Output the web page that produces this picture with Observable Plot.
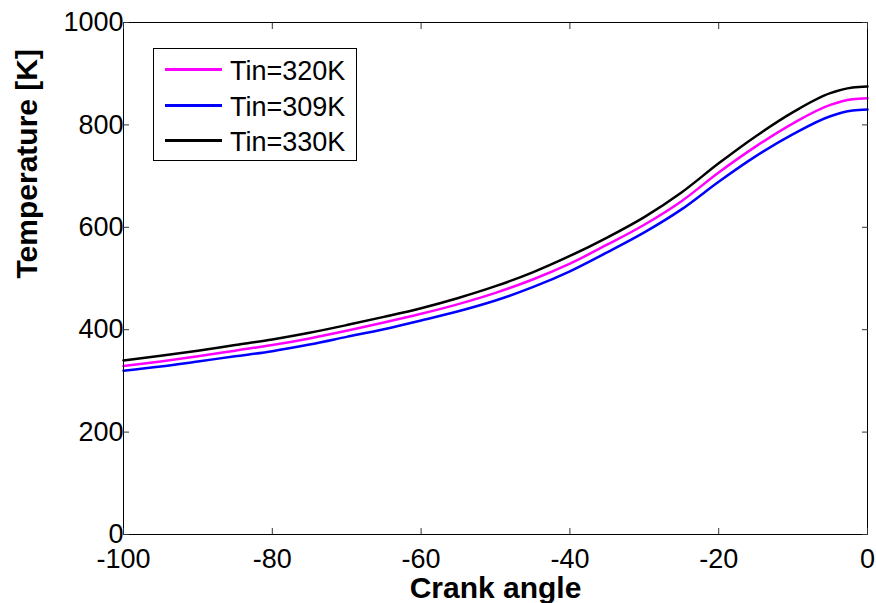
<!DOCTYPE html>
<html>
<head>
<meta charset="utf-8">
<script src="https://cdn.jsdelivr.net/npm/d3@7"></script>
<script src="https://cdn.jsdelivr.net/npm/@observablehq/plot@0.6"></script>
<style>
  html, body { margin: 0; padding: 0; background: #fff; }
  #wrap { position: relative; width: 876px; height: 603px; font-family: "Liberation Sans", Arial, sans-serif; }
  #legend { position: absolute; left: 153px; top: 48px; width: 202px; height: 111px; border: 1px solid #000; background: #fff; }
  .row { position: absolute; left: 0; height: 34px; width: 100%; }
  .row .sw { position: absolute; left: 11px; top: 16px; width: 57px; height: 2.5px; }
  .row .lb { position: absolute; left: 76px; top: 2px; font-size: 27px; line-height: 34px; color: #000; white-space: nowrap; }
</style>
</head>
<body>
<div id="wrap"></div>
<script>
// Crank angle (deg)
const crankAngle = [-100, -95, -90, -85, -80, -75, -70, -65, -60, -55, -50, -45, -40, -35, -30, -25, -20, -15, -10, -5, -2, 0];
// Temperature [K] for each inlet temperature
const temp320 = [329, 338, 348, 359, 370, 383, 398, 414, 431, 450, 472, 498, 529, 566, 605, 651, 707, 758, 803, 839, 850, 852];
const temp309 = [320, 328, 338, 348, 358, 371, 386, 401, 418, 436, 457, 483, 514, 551, 590, 635, 689, 739, 782, 817, 828, 830];
const temp330 = [340, 349, 359, 370, 381, 394, 409, 425, 442, 462, 485, 512, 544, 580, 620, 668, 725, 778, 825, 862, 873, 875];

const seriesNames = ["Tin=320K", "Tin=309K", "Tin=330K"];
const seriesColors = ["#ff00ff", "#0000ff", "#000000"];
const seriesValues = [temp320, temp309, temp330];

const xTicks = [-100, -80, -60, -40, -20, 0];
const yTicks = [0, 200, 400, 600, 800, 1000];

const rows = [];
seriesNames.forEach((name, i) => {
  crankAngle.forEach((a, j) => rows.push({series: name, angle: a, temp: seriesValues[i][j]}));
});

const font = "'Liberation Sans', Arial, sans-serif";
const fmt = d => String(d);

const chart = Plot.plot({
  width: 876,
  height: 603,
  marginLeft: 123,
  marginRight: 9,
  marginTop: 22,
  marginBottom: 69,
  style: {fontFamily: font, background: "#fff", overflow: "visible"},
  x: {domain: [-100, 0]},
  y: {domain: [0, 1000]},
  color: {domain: seriesNames, range: seriesColors},
  marks: [
    Plot.line(rows, {x: "angle", y: "temp", z: "series", stroke: "series", strokeWidth: 2.5, curve: "monotone-x"}),
    Plot.frame({stroke: "#000", strokeWidth: 1}),
    Plot.axisX(xTicks, {anchor: "bottom", tickSize: -6, tickPadding: 20, tickFormat: fmt, fontSize: 27, stroke: "#333", fill: "#000", label: null}),
    Plot.axisX(xTicks, {anchor: "top", tickSize: -6, tickFormat: () => "", stroke: "#333", label: null}),
    Plot.axisY(yTicks, {anchor: "left", tickSize: -6, tickPadding: 6, tickFormat: fmt, fontSize: 27, stroke: "#333", fill: "#000", label: null}),
    Plot.axisY(yTicks, {anchor: "right", tickSize: -6, tickFormat: () => "", stroke: "#333", label: null}),
    Plot.text(["Crank angle"], {frameAnchor: "bottom", dy: 63, lineAnchor: "bottom", fontSize: 30, fontWeight: "bold", fill: "#000"}),
    Plot.text(["Temperature [K]"], {frameAnchor: "left", dx: -87, rotate: -90, lineAnchor: "bottom", fontSize: 30, fontWeight: "bold", fill: "#000"})
  ]
});

const wrap = document.getElementById("wrap");
wrap.appendChild(chart);

const legend = document.createElement("div");
legend.id = "legend";
const centers = [20, 56, 91];
seriesNames.forEach((name, i) => {
  const row = document.createElement("div");
  row.className = "row";
  row.style.top = (centers[i] - 17) + "px";
  const sw = document.createElement("div");
  sw.className = "sw";
  sw.style.background = seriesColors[i];
  const lb = document.createElement("div");
  lb.className = "lb";
  lb.textContent = name;
  row.appendChild(sw);
  row.appendChild(lb);
  legend.appendChild(row);
});
wrap.appendChild(legend);
</script>
</body>
</html>
